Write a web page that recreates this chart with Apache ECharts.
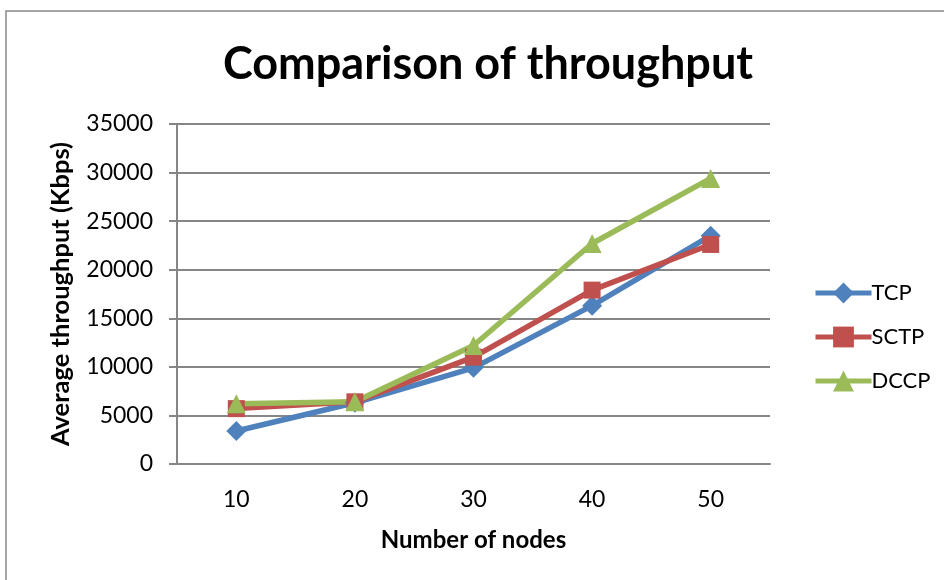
<!DOCTYPE html>
<html>
<head>
<meta charset="utf-8">
<script src="https://cdn.jsdelivr.net/npm/echarts@6/dist/echarts.min.js"></script>
<style>html,body{margin:0;padding:0;background:#fff}#c{width:944px;height:580px}</style>
</head>
<body>
<div id="c"></div>
<script>
var categories = ['10', '20', '30', '40', '50'];
var tcp = [3400, 6300, 9900, 16300, 23500];
var sctp = [5700, 6400, 11000, 17900, 22600];
var dccp = [6200, 6400, 12200, 22700, 29400];
var yTicks = [0, 5000, 10000, 15000, 20000, 25000, 30000, 35000];

var chart = echarts.init(document.getElementById('c'));
var font = 'Lato, "Open Sans", sans-serif';
function line(name, data, color, symbol, size) {
  return {
    name: name, type: 'line', data: data, symbol: symbol, symbolSize: size,
    lineStyle: {color: color, width: 5.5}, itemStyle: {color: color},
    emphasis: {disabled: true}
  };
}
chart.setOption({
  animation: false,
  graphic: [{type: 'rect', shape: {x: 6, y: 11, width: 960, height: 600}, style: {fill: 'none', stroke: '#888', lineWidth: 1.5}}],
  title: {text: 'Comparison of throughput', left: 483, top: 37, textAlign: 'center',
    textStyle: {fontFamily: font, fontSize: 45, fontWeight: 'bold', color: '#000'}},
  legend: {orient: 'vertical', left: 808, top: 277, itemGap: 22, itemWidth: 56, itemHeight: 26,
    lineStyle: {width: 5},
    textStyle: {fontFamily: font, fontSize: 22, color: '#000', padding: [0, 0, 0, -5]},
    data: ['TCP', 'SCTP', 'DCCP']},
  grid: {left: 177, top: 124, width: 593, height: 340},
  xAxis: {type: 'category', data: categories, boundaryGap: true,
    name: 'Number of nodes', nameLocation: 'middle', nameGap: 64,
    nameTextStyle: {fontFamily: font, fontSize: 24, fontWeight: 'bold', color: '#000'},
    axisLine: {lineStyle: {color: '#868686', width: 2}},
    axisTick: {show: false},
    axisLabel: {fontFamily: font, fontSize: 23, color: '#000', margin: 24}},
  yAxis: {type: 'value', min: 0, max: 35000, interval: 5000,
    name: 'Average throughput (Kbps)', nameLocation: 'middle', nameGap: 103,
    nameTextStyle: {fontFamily: font, fontSize: 25.5, fontWeight: 'bold', color: '#000'},
    axisLine: {show: true, lineStyle: {color: '#868686', width: 2}},
    axisTick: {show: true, length: 8, inside: false, lineStyle: {color: '#868686', width: 2}},
    splitLine: {lineStyle: {color: '#868686', width: 2}},
    axisLabel: {fontFamily: font, fontSize: 23, color: '#000', margin: 24,
      formatter: function (v) { return yTicks.indexOf(v) >= 0 ? String(v) : ''; }}},
  series: [
    line('TCP', tcp, '#4F81BD', 'diamond', 20),
    line('SCTP', sctp, '#C0504D', 'rect', 17),
    line('DCCP', dccp, '#9BBB59', 'triangle', 19)
  ]
});
</script>
</body>
</html>
